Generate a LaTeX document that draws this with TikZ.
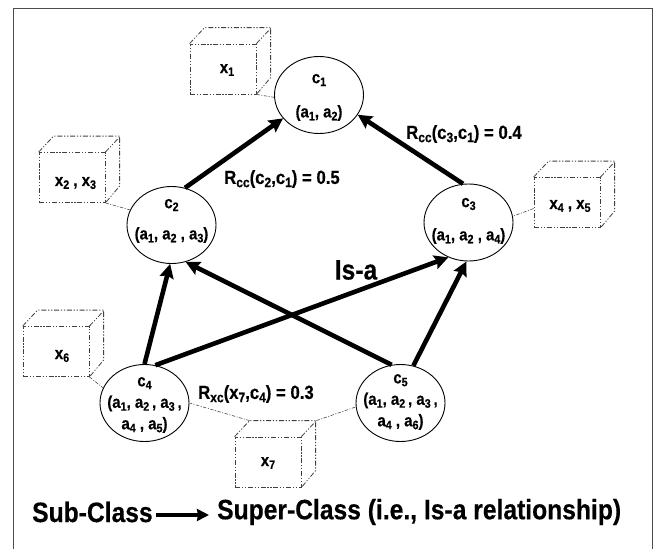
\documentclass[tikz,border=0pt]{standalone}
\usepackage{fontspec}
\setmainfont{Liberation Sans}[BoldFont={Liberation Sans Bold},BoldFeatures={FakeStretch=0.88,FakeBold=0.4}]
\usetikzlibrary{shapes.geometric,arrows.meta}
\newcommand{\lo}[1]{\raisebox{-0.32ex}{\scalebox{0.72}{#1}}}
\tikzset{
  x=1pt,y=-1pt,
  ell/.style={draw=black,ellipse,inner sep=0pt,minimum width=89pt,minimum height=77pt,line width=0.9pt},
  txt/.style={inner sep=0pt,align=center,font=\bfseries\fontsize{17}{21.5}\selectfont},
  lab/.style={inner sep=0pt,font=\bfseries\fontsize{19}{21}\selectfont},
  dd/.style={draw=black!75,line width=0.8pt,dash pattern=on 5pt off 1.8pt on 1.2pt off 1.8pt on 1.2pt off 1.8pt},
  link/.style={draw=black!70,line width=0.6pt,dash pattern=on 3.5pt off 1.5pt on 1pt off 1.5pt},
  isa/.style={draw=black,line width=4.6pt,-{Stealth[length=14pt,width=14pt,inset=2pt]}},
  cubefront/.style={dd,rectangle,minimum width=66pt,minimum height=50pt,inner sep=0pt},
}
\newcommand{\cubeback}[1]{%
  \draw[dd] (#1.north west) -- ++(15,-16) -- ++(66,0) -- ++(0,50) -- (#1.south east);
  \draw[dd] (#1.north east) -- ++(15,-16);
}
\begin{document}
\begin{tikzpicture}
\useasboundingbox (0,0) rectangle (658,549);
\draw[draw=black!70,line width=1.2pt] (13.5,549) -- (13.5,8.5) -- (652.5,8.5) -- (652.5,549);
% classes
\node[ell] (c1) at (319,95) {};
\node[ell] (c2) at (171.5,225) {};
\node[ell] (c3) at (468.5,222.5) {};
\node[ell] (c4) at (144.5,403) {};
\node[ell] (c5) at (400.5,403) {};
\node[txt] at (319,80) {c\lo{1}};
\node[txt] at (319,113) {(a\lo{1}, a\lo{2})};
\node[txt] at (171.5,205) {c\lo{2}};
\node[txt] at (171.5,235) {(a\lo{1}, a\lo{2} , a\lo{3})};
\node[txt] at (468.5,204) {c\lo{3}};
\node[txt] at (468.5,236) {(a\lo{1}, a\lo{2} , a\lo{4})};
\node[txt] at (144.5,405) {c\lo{4}\\(a\lo{1}, a\lo{2}\,, a\lo{3}\,,\\a\lo{4} , a\lo{5})};
\node[txt] at (400.5,402) {c\lo{5}\\(a\lo{1}, a\lo{2}\,, a\lo{3}\,,\\a\lo{4} , a\lo{6})};
% cubes
\node[cubefront] (x1) at (223,69) {};
\node[cubefront] (x2) at (72,177.5) {};
\node[cubefront] (x4) at (567,202.5) {};
\node[cubefront] (x6) at (56,351.5) {};
\node[cubefront] (x7) at (268,462) {};
\cubeback{x1}\cubeback{x2}\cubeback{x4}\cubeback{x6}\cubeback{x7}
\node[txt] at (227,70) {x\lo{1}};
\node[txt] at (75.5,183) {x\lo{2} , x\lo{3}};
\node[txt] at (570,206) {x\lo{4} , x\lo{5}};
\node[txt] at (62,356) {x\lo{6}};
\node[txt] at (268,463) {x\lo{7}};
% links
\draw[link] (x1.south east) -- (c1.183);
\draw[link] (x2.south east) -- (c2.160);
\draw[link] ([yshift=-6pt]x4.west) -- (c3.8);
\draw[link] (x6.south east) -- (c4.160);
\draw[link] (x7.north west) ++(15,-16) coordinate (x7b) (x7b) -- (c4.0);
\draw[link] (x7.north east) ++(15,-16) coordinate (x7c) (x7c) -- (c5.185);
% is-a
\draw[isa] (c2.70) -- (c1.213);
\draw[isa] (c3.98) -- (c1.-27);
\draw[isa] (c4.90) -- (c2.268);
\draw[isa] (c5.103) -- (c2.-69);
\draw[isa] (c4.74) -- (c3.-120);
\draw[isa] (c5.71) -- (c3.-93);
% labels
\node[lab,anchor=west] at (224,179) {R\lo{cc}(c\lo{2},c\lo{1}) = 0.5};
\node[lab,anchor=west] at (406,134) {R\lo{cc}(c\lo{3},c\lo{1}) = 0.4};
\node[lab,anchor=west] at (198,394) {R\lo{xc}(x\lo{7},c\lo{4}) = 0.3};
\node[inner sep=0pt,font=\bfseries\fontsize{28}{30}\selectfont] at (356,270) {Is-a};
\node[inner sep=0pt,anchor=west,font=\bfseries\fontsize{28}{30}\selectfont] (sub) at (32,512) {Sub-Class};
\node[inner sep=0pt,anchor=west,font=\bfseries\fontsize{28}{30}\selectfont] (sup) at (217,512) {Super-Class (i.e., Is-a relationship)};
\draw[draw=black,line width=3.6pt,-{Stealth[length=12pt,width=12pt,inset=1pt]}] (sub.east) ++(3,3) coordinate (a1) (a1) -- ([xshift=-8pt]a1 -| sup.west);
\end{tikzpicture}
\end{document}
